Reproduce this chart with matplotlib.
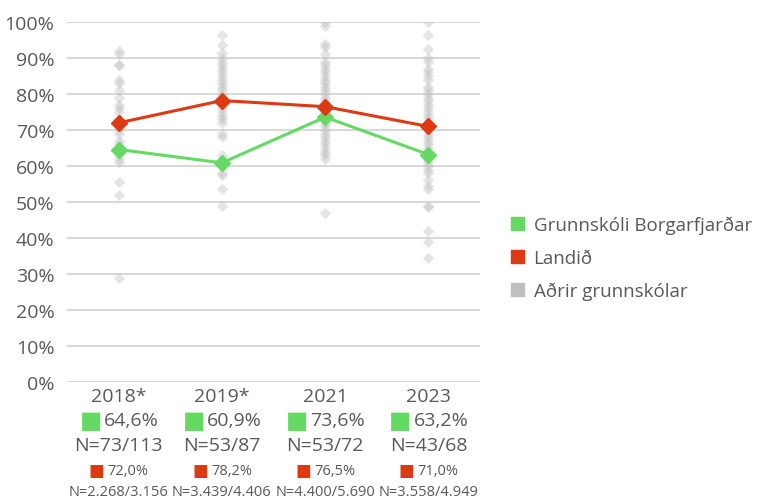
import numpy as np
import matplotlib.pyplot as plt
from matplotlib.patches import Patch
from matplotlib.transforms import offset_copy

plt.rcParams['font.family'] = ['Open Sans', 'DejaVu Sans']

years = ['2018*', '2019*', '2021', '2023']
school = [64.6, 60.9, 73.6, 63.2]
landid = [72.0, 78.2, 76.5, 71.0]
school_lbl = ['64,6%', '60,9%', '73,6%', '63,2%']
school_n = ['N=73/113', 'N=53/87', 'N=53/72', 'N=43/68']
land_lbl = ['72,0%', '78,2%', '76,5%', '71,0%']
land_n = ['N=2.268/3.156', 'N=3.439/4.406', 'N=4.400/5.690', 'N=3.558/4.949']

# other schools
others_2018 = [92, 91, 88, 88, 84, 83, 81, 79, 77, 76, 75, 73, 71, 70, 69, 67, 66, 65,
               64, 63, 62, 61, 55.5, 52, 29]
others_2019 = [96.5, 93.5, 91.5, 90, 89, 88, 87, 86, 85, 84, 83, 82, 81, 80, 78.5, 77,
               76, 75, 74, 73, 72, 69, 68, 63, 58, 57.5, 53.5, 49]
others_2021 = [100, 99, 94, 93, 91, 89, 88, 87, 86, 85, 84, 83, 82, 81, 80, 79, 78, 77,
               76, 75, 74, 73, 72, 71, 70, 69, 68, 67, 66, 65, 64, 63, 62, 47]
others_2023 = [100, 96.5, 92.5, 90, 89, 87, 86, 85, 84, 82, 81, 80, 79, 78, 77, 76, 75,
               74, 73, 72, 70, 69, 68, 67, 66, 65, 64, 62, 61, 60, 59, 58, 56, 54.5, 53.5,
               49, 48.5, 42, 39, 34.5]
others = [others_2018, others_2019, others_2021, others_2023]

green = '#64da64'
red = '#dc3a12'
gray = '#bfbfbf'
txt = '#595959'

fig = plt.figure(figsize=(7.65, 5.02), dpi=100)
ax = fig.add_axes([0.0876, 0.237, 0.540, 0.717])

for i, vals in enumerate(others):
    ax.scatter([i] * len(vals), vals, marker='D', s=34, color=gray, alpha=0.4,
               linewidths=0, zorder=2)

x = np.arange(len(years))
ax.plot(x, school, color=green, lw=2.2, marker='D', ms=8, zorder=4)
ax.plot(x, landid, color=red, lw=2.2, marker='D', ms=8, zorder=4)

ax.set_xlim(-0.5, 3.5)
ax.set_ylim(0, 100)
ax.set_yticks(np.arange(0, 101, 10))
ax.set_yticklabels([f'{v}%' for v in range(0, 101, 10)], fontsize=14, color=txt)
ax.yaxis.grid(True, color='#d9d9d9', lw=1.5)
ax.set_axisbelow(True)
ax.tick_params(axis='y', length=0, pad=9)
ax.set_xticks([])
for s in ax.spines.values():
    s.set_visible(False)

# category labels below the plot
tr = ax.get_xaxis_transform()
for i in range(len(years)):
    ax.text(i, -0.04, years[i], transform=tr, ha='center', va='center', fontsize=14, color=txt)
    ax.text(i, -0.105, '■', transform=offset_copy(tr, fig, x=-28, y=0, units='dots'),
            ha='center', va='center', fontsize=17, color=green, family='DejaVu Sans')
    ax.text(i, -0.105, school_lbl[i], transform=offset_copy(tr, fig, x=-15, y=0, units='dots'),
            ha='left', va='center', fontsize=14, color=txt)
    ax.text(i, -0.175, school_n[i], transform=tr, ha='center', va='center', fontsize=14, color=txt)
    ax.text(i, -0.245, '■', transform=offset_copy(tr, fig, x=-22, y=0, units='dots'),
            ha='center', va='center', fontsize=12, color=red, family='DejaVu Sans')
    ax.text(i, -0.245, land_lbl[i], transform=offset_copy(tr, fig, x=-11, y=0, units='dots'),
            ha='left', va='center', fontsize=10.5, color=txt)
    ax.text(i, -0.305, land_n[i], transform=tr, ha='center', va='center', fontsize=10.5, color=txt)

handles = [Patch(color=green), Patch(color=red), Patch(color=gray)]
labels = ['Grunnskóli Borgarfjarðar', 'Landið', 'Aðrir grunnskólar']
fig.legend(handles, labels, loc='center left', bbox_to_anchor=(0.646, 0.484),
           frameon=False, fontsize=13.5, labelcolor=txt, handlelength=0.7,
           handleheight=0.7, handletextpad=0.5, labelspacing=0.8)

fig.savefig('out.png', dpi=100)
